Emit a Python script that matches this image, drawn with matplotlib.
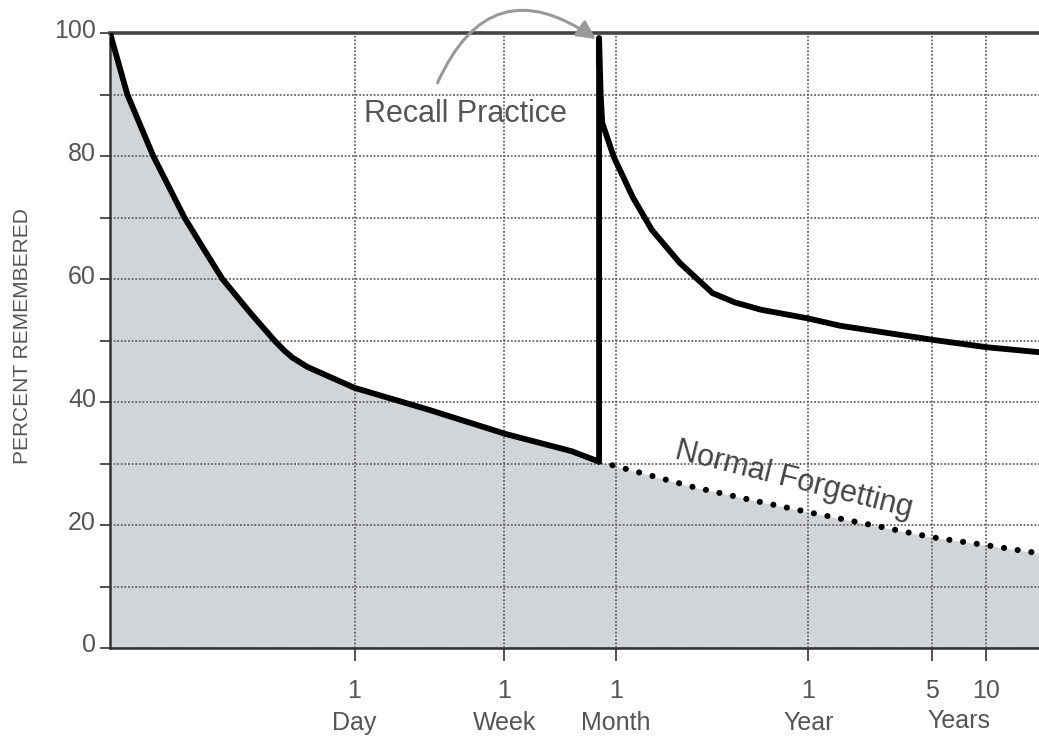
import matplotlib.pyplot as plt
import matplotlib.transforms as mtransforms

plt.rcParams['font.family'] = ['Liberation Sans', 'DejaVu Sans']

# time in days, log scale from 1 hour to 20 years
main_t = [1/24, 0.0522, 0.0731, 0.1096, 0.140, 0.1796, 0.258, 0.353, 0.40, 0.447, 0.542,
          1.0, 2.65, 7.13, 16.8, 24]
main_v = [100, 90, 80, 70, 65, 60, 54.5, 50, 48.4, 47.2, 45.7, 42.3, 38.7, 34.8, 32.0, 30.3]

recall_t = [24, 24.5, 25.0, 29.1, 37.2, 47.6, 68.6, 105, 140, 197, 362, 550, 1845, 3720, 7300]
recall_v = [99.2, 90, 85.4, 79.8, 73.3, 68, 62.6, 57.7, 56.2, 55, 53.6, 52.4, 50.1, 48.9, 48.1]

forget_t = [24, 81, 171, 362, 1820, 3700, 7300]
forget_v = [30.3, 26.2, 24.1, 22.1, 18, 16.7, 15.4]

tick_t = [1, 7, 30, 365, 1825, 3650]
tick_labels = ['1\nDay', '1\nWeek', '1\nMonth', '1\nYear', '5', '10']

fig = plt.figure(figsize=(10.39, 7.40), dpi=100)
ax = fig.add_axes([110/1039, 92/740, 929/1039, 615/740])
ax.set_xscale('log')
ax.set_xlim(1/24, 7300)
ax.set_ylim(0, 100)

# shaded area under normal forgetting
ax.fill_between(main_t + forget_t[1:], 0, main_v + forget_v[1:], color='#d1d5d8', lw=0, zorder=1)

ax.plot(main_t + recall_t, main_v + recall_v, color='black', lw=4.2,
        solid_joinstyle='round', zorder=4)
ax.plot(forget_t, forget_v, color='black', lw=4.4, linestyle=(0, (0.01, 2.25)),
        dash_capstyle='round', zorder=4)

# grid
ax.set_yticks(range(0, 101, 10))
ax.set_yticklabels([str(v) if v % 20 == 0 else '' for v in range(0, 101, 10)])
ax.set_xticks(tick_t)
ax.set_xticklabels(tick_labels)
ax.minorticks_off()
ax.grid(True, color='#666666', lw=1.3, linestyle=(0, (1, 1)))

for s in ['left', 'bottom']:
    ax.spines[s].set_color('#333333')
    ax.spines[s].set_linewidth(1.8)
ax.spines['top'].set_color('#444444')
ax.spines['top'].set_linewidth(2.6)
ax.spines['right'].set_visible(False)

ax.tick_params(axis='y', length=7, width=1.2, color='#333333', pad=3,
               labelsize=18, labelcolor='#555555')
ax.tick_params(axis='x', length=9, width=1.2, color='#333333', pad=13,
               labelsize=18, labelcolor='#555555')
offset = mtransforms.ScaledTranslation(0, 5/100, fig.dpi_scale_trans)
for lab in ax.get_yticklabels():
    lab.set_transform(lab.get_transform() + offset)
for lab in ax.get_xticklabels():
    lab.set_linespacing(1.45)

ax.text((1825*3650) ** 0.5, -0.1195, 'Years', transform=ax.get_xaxis_transform(),
        ha='center', va='center', fontsize=18, color='#555555')

fig.text(23/1039, 1 - 336/740, 'PERCENT REMEMBERED', rotation=90, ha='center', va='center',
         fontsize=15, color='#555555')

ax.text(4.24, 86.8, 'Recall Practice', ha='center', va='center', fontsize=22, color='#555555')
ax.text(300, 27.4, 'Normal Forgetting', ha='center', va='center', fontsize=22,
        color='#444444', rotation=-14, rotation_mode='anchor')

ax.annotate('', xy=(23, 99.0), xytext=(2.94, 91.9),
            arrowprops=dict(arrowstyle='-|>', connectionstyle='arc3,rad=-0.6', color='#999999',
                            lw=2.2, mutation_scale=28, shrinkA=0, shrinkB=0),
            annotation_clip=False, zorder=5)

fig.savefig('out.png', dpi=100)
